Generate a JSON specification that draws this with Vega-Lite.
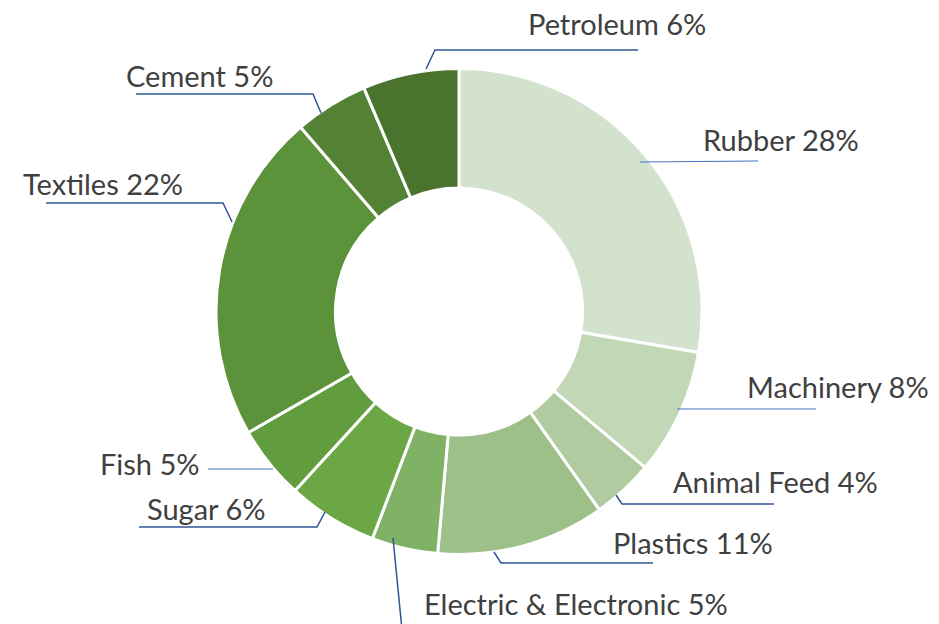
{
  "$schema": "https://vega.github.io/schema/vega-lite/v6.json",
  "width": 918,
  "height": 623,
  "autosize": "none",
  "padding": {"left": 0, "top": 0, "right": 21, "bottom": 1},
  "background": "white",
  "config": {"view": {"stroke": null}},
  "datasets": {
    "slices": [
      {"id": 1, "name": "Rubber", "share": 27.7},
      {"id": 2, "name": "Machinery", "share": 8.4},
      {"id": 3, "name": "Animal Feed", "share": 4.1},
      {"id": 4, "name": "Plastics", "share": 11.2},
      {"id": 5, "name": "Electric & Electronic", "share": 4.4},
      {"id": 6, "name": "Sugar", "share": 6.0},
      {"id": 7, "name": "Fish", "share": 4.9},
      {"id": 8, "name": "Textiles", "share": 22.0},
      {"id": 9, "name": "Cement", "share": 4.9},
      {"id": 10, "name": "Petroleum", "share": 6.4}
    ],
    "leaders": [
      {"name": "Petroleum", "pt": 1, "x": -33, "y": 242.5},
      {"name": "Petroleum", "pt": 2, "x": -24, "y": 261.5},
      {"name": "Petroleum", "pt": 3, "x": 179, "y": 261.5},
      {"name": "Cement", "pt": 1, "x": -138, "y": 198.5},
      {"name": "Cement", "pt": 2, "x": -146, "y": 217.5},
      {"name": "Cement", "pt": 3, "x": -323, "y": 217.5},
      {"name": "Textiles", "pt": 1, "x": -227, "y": 89.5},
      {"name": "Textiles", "pt": 2, "x": -236, "y": 108.5},
      {"name": "Textiles", "pt": 3, "x": -413, "y": 108.5},
      {"name": "Rubber", "pt": 1, "x": 181, "y": 149.5},
      {"name": "Rubber", "pt": 2, "x": 299, "y": 150.5},
      {"name": "Machinery", "pt": 1, "x": 218, "y": -97.5},
      {"name": "Machinery", "pt": 2, "x": 357, "y": -97.5},
      {"name": "Animal Feed", "pt": 1, "x": 157, "y": -183.5},
      {"name": "Animal Feed", "pt": 2, "x": 163, "y": -192.5},
      {"name": "Animal Feed", "pt": 3, "x": 315, "y": -192.5},
      {"name": "Plastics", "pt": 1, "x": 35, "y": -240.5},
      {"name": "Plastics", "pt": 2, "x": 42, "y": -251.5},
      {"name": "Plastics", "pt": 3, "x": 194, "y": -251.5},
      {"name": "Electric & Electronic", "pt": 1, "x": -66, "y": -226.5},
      {"name": "Electric & Electronic", "pt": 2, "x": -56, "y": -328.5},
      {"name": "Fish", "pt": 1, "x": -186, "y": -157.5},
      {"name": "Fish", "pt": 2, "x": -251, "y": -157.5},
      {"name": "Sugar", "pt": 1, "x": -134, "y": -200.5},
      {"name": "Sugar", "pt": 2, "x": -142, "y": -215.5},
      {"name": "Sugar", "pt": 3, "x": -320, "y": -215.5}
    ],
    "labels": [
      {"text": "Petroleum 6%", "x": 69, "y": 276.5},
      {"text": "Cement 5%", "x": -333, "y": 224.5},
      {"text": "Textiles 22%", "x": -436, "y": 116.5},
      {"text": "Rubber 28%", "x": 244, "y": 160.5},
      {"text": "Machinery 8%", "x": 288, "y": -86.5},
      {"text": "Animal Feed 4%", "x": 214, "y": -181.5},
      {"text": "Plastics 11%", "x": 154, "y": -242.5},
      {"text": "Electric & Electronic 5%", "x": -35, "y": -303.5},
      {"text": "Fish 5%", "x": -359, "y": -163.5},
      {"text": "Sugar 6%", "x": -312, "y": -208.5}
    ]
  },
  "layer": [
    {
      "data": {"name": "slices"},
      "mark": {"type": "arc", "innerRadius": 123.5, "outerRadius": 243, "stroke": "white", "strokeWidth": 3},
      "encoding": {
        "theta": {"field": "share", "type": "quantitative", "stack": true},
        "order": {"field": "id", "type": "quantitative"},
        "color": {
          "field": "name",
          "type": "nominal",
          "legend": null,
          "scale": {
            "domain": ["Rubber", "Machinery", "Animal Feed", "Plastics", "Electric & Electronic", "Sugar", "Fish", "Textiles", "Cement", "Petroleum"],
            "range": ["#d3e2cc", "#c1d7b6", "#afcb9f", "#9cc087", "#80b266", "#6ba744", "#619d3f", "#5b923a", "#548235", "#4a732d"]
          }
        }
      }
    },
    {
      "data": {"name": "leaders"},
      "transform": [{"filter": {"field": "name", "oneOf": ["Rubber", "Machinery", "Fish"]}}],
      "mark": {"type": "line", "color": "#4472c4", "strokeWidth": 1.2},
      "encoding": {
        "x": {"field": "x", "type": "quantitative", "scale": {"domain": [-459, 459]}, "axis": null},
        "y": {"field": "y", "type": "quantitative", "scale": {"domain": [-311.5, 311.5]}, "axis": null},
        "detail": {"field": "name"},
        "order": {"field": "pt", "type": "quantitative"}
      }
    },
    {
      "data": {"name": "leaders"},
      "transform": [{"filter": {"not": {"field": "name", "oneOf": ["Rubber", "Machinery", "Fish"]}}}],
      "mark": {"type": "line", "color": "#2f5597", "strokeWidth": 1.5},
      "encoding": {
        "x": {"field": "x", "type": "quantitative", "scale": {"domain": [-459, 459]}, "axis": null},
        "y": {"field": "y", "type": "quantitative", "scale": {"domain": [-311.5, 311.5]}, "axis": null},
        "detail": {"field": "name"},
        "order": {"field": "pt", "type": "quantitative"}
      }
    },
    {
      "data": {"name": "labels"},
      "mark": {"type": "text", "align": "left", "baseline": "alphabetic", "font": "Lato", "fontSize": 29, "color": "#404040"},
      "encoding": {
        "x": {"field": "x", "type": "quantitative", "scale": {"domain": [-459, 459]}, "axis": null},
        "y": {"field": "y", "type": "quantitative", "scale": {"domain": [-311.5, 311.5]}, "axis": null},
        "text": {"field": "text"}
      }
    }
  ]
}
